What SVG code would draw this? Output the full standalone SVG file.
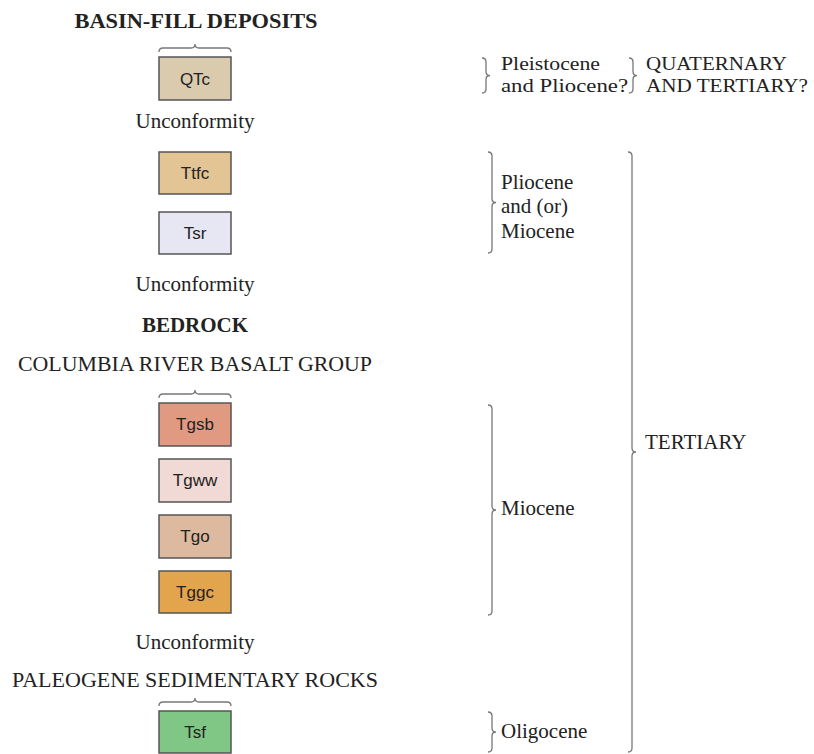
<svg xmlns="http://www.w3.org/2000/svg" width="814" height="754" viewBox="0 0 814 754">
<style>
.t{font-family:"Liberation Serif","Times New Roman",serif;font-size:21px;fill:#222}
.s{font-size:18.5px}
.c{text-anchor:middle}
.b{font-weight:bold}
.box{stroke:#555;stroke-width:1.5}
.lbl{font-family:"Liberation Sans",Arial,sans-serif;font-size:17px;fill:#222;text-anchor:middle}
.br{fill:none;stroke:#777;stroke-width:1.3}
</style>
<rect width="814" height="754" fill="#fff"/>
<g id="headings">
<text class="t c b" x="196" y="28" textLength="243" lengthAdjust="spacingAndGlyphs">BASIN-FILL DEPOSITS</text>
<text class="t c" x="195" y="128">Unconformity</text>
<text class="t c" x="195" y="291">Unconformity</text>
<text class="t c b" x="195" y="332">BEDROCK</text>
<text class="t c" x="195" y="371" textLength="354" lengthAdjust="spacingAndGlyphs">COLUMBIA RIVER BASALT GROUP</text>
<text class="t c" x="195" y="649">Unconformity</text>
<text class="t c" x="195" y="687" textLength="366" lengthAdjust="spacingAndGlyphs">PALEOGENE SEDIMENTARY ROCKS</text>
</g>
<g id="QTc"><rect class="box" x="159" y="57" width="72" height="43" fill="#dacbae"/><text class="lbl" x="195" y="85">QTc</text></g>
<g id="Ttfc"><rect class="box" x="159" y="152" width="72" height="42" fill="#e2c495"/><text class="lbl" x="195" y="179">Ttfc</text></g>
<g id="Tsr"><rect class="box" x="159" y="212" width="72" height="42" fill="#e7e7f4"/><text class="lbl" x="195" y="239">Tsr</text></g>
<g id="Tgsb"><rect class="box" x="159" y="403" width="72" height="43" fill="#e09a82"/><text class="lbl" x="195" y="430">Tgsb</text></g>
<g id="Tgww"><rect class="box" x="159" y="459" width="72" height="43" fill="#f1d9d5"/><text class="lbl" x="195" y="486">Tgww</text></g>
<g id="Tgo"><rect class="box" x="159" y="515" width="72" height="43" fill="#ddb9a0"/><text class="lbl" x="195" y="542">Tgo</text></g>
<g id="Tggc"><rect class="box" x="159" y="571" width="72" height="42" fill="#e3a44e"/><text class="lbl" x="195" y="598">Tggc</text></g>
<g id="Tsf"><rect class="box" x="159" y="711" width="72" height="42" fill="#80c684"/><text class="lbl" x="195" y="738">Tsf</text></g>
<g id="connectors">
<path class="br" d="M159,52 Q159,48 163,48 H191 Q195,48 195,44 Q195,48 199,48 H227 Q231,48 231,52"/>
<path class="br" d="M159,398 Q159,394 163,394 H191 Q195,394 195,390 Q195,394 199,394 H227 Q231,394 231,398"/>
<path class="br" d="M159,706 Q159,702 163,702 H191 Q195,702 195,698 Q195,702 199,702 H227 Q231,702 231,706"/>
<path class="br" d="M482,58 Q486,58 486,62 V71.5 Q486,75.5 490,75.5 Q486,75.5 486,79.5 V89 Q486,93 482,93"/>
<path class="br" d="M629,58 Q633,58 633,62 V71.5 Q633,75.5 637,75.5 Q633,75.5 633,79.5 V89 Q633,93 629,93"/>
<path class="br" d="M488,152 Q492,152 492,156 V198.5 Q492,202.5 496,202.5 Q492,202.5 492,206.5 V249 Q492,253 488,253"/>
<path class="br" d="M488,405 Q492,405 492,409 V506 Q492,510 496,510 Q492,510 492,514 V611 Q492,615 488,615"/>
<path class="br" d="M488,712 Q492,712 492,716 V728 Q492,732 496,732 Q492,732 492,736 V748 Q492,752 488,752"/>
<path class="br" d="M628,152 Q632,152 632,156 V448 Q632,452 636,452 Q632,452 632,456 V748 Q632,752 628,752"/>
</g>
<g id="ages">
<text class="t s" x="501" y="70" textLength="99" lengthAdjust="spacingAndGlyphs">Pleistocene</text>
<text class="t s" x="501" y="92" textLength="127" lengthAdjust="spacingAndGlyphs">and Pliocene?</text>
<text class="t s" x="646" y="70" textLength="141" lengthAdjust="spacingAndGlyphs">QUATERNARY</text>
<text class="t s" x="646" y="92" textLength="162" lengthAdjust="spacingAndGlyphs">AND TERTIARY?</text>
<text class="t" x="501" y="189">Pliocene</text>
<text class="t" x="501" y="213">and (or)</text>
<text class="t" x="501" y="238">Miocene</text>
<text class="t" x="501" y="515">Miocene</text>
<text class="t" x="645" y="449">TERTIARY</text>
<text class="t" x="501" y="738">Oligocene</text>
</g>
</svg>
